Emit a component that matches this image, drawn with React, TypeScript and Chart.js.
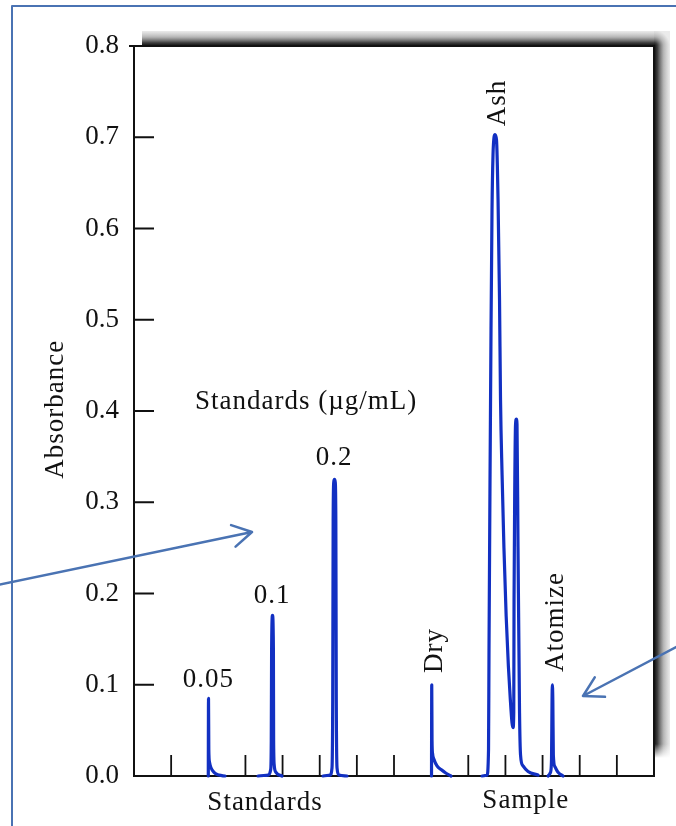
import React, { useEffect, useRef } from 'react';
import { Chart, registerables } from 'chart.js';

Chart.register(...registerables);

// ---------- data ----------
const yTickValues = [0, 0.1, 0.2, 0.3, 0.4, 0.5, 0.6, 0.7, 0.8];
const xTickValues = [1, 2, 3, 4, 5, 6, 7, 8, 9, 10, 11, 12, 13];

const std005X = [2.0, 2.006, 2.014, 2.033, 2.073, 2.154, 2.289, 2.45];
const std005Y = [0, 0.085, 0.029, 0.015, 0.009, 0.004, 0.001, 0];

const std01X = [3.339, 3.608, 3.68, 3.696, 3.705, 3.729, 3.753, 3.759, 3.775, 3.823, 3.985];
const std01Y = [0, 0.001, 0.007, 0.039, 0.138, 0.176, 0.14, 0.04, 0.012, 0.004, 0];

const std02X = [5.089, 5.277, 5.331, 5.35, 5.362, 5.378, 5.398, 5.418, 5.434, 5.446, 5.466, 5.52, 5.735];
const std02Y = [0, 0.001, 0.009, 0.083, 0.28, 0.322, 0.325, 0.322, 0.28, 0.083, 0.009, 0.001, 0];

const dryX = [8.01, 8.016, 8.024, 8.037, 8.078, 8.158, 8.266, 8.401, 8.535];
const dryY = [0, 0.1, 0.039, 0.025, 0.018, 0.011, 0.007, 0.003, 0];

const ashX = [9.37, 9.504, 9.545, 9.558, 9.585, 9.612, 9.639, 9.666, 9.693, 9.72, 9.76, 9.801, 9.841, 9.868,
  9.91, 9.96, 10.02, 10.08, 10.13, 10.178, 10.205, 10.224, 10.232, 10.253, 10.272, 10.294, 10.312, 10.339,
  10.38, 10.407, 10.474, 10.609, 10.878];
const ashY = [0, 0.001, 0.029, 0.138, 0.325, 0.489, 0.621, 0.681, 0.7, 0.703, 0.697, 0.632, 0.522, 0.412,
  0.33, 0.25, 0.175, 0.12, 0.085, 0.058, 0.053, 0.069, 0.193, 0.325, 0.385, 0.391, 0.385, 0.251,
  0.069, 0.023, 0.011, 0.005, 0.001];

const atomizeX = [11.147, 11.214, 11.241, 11.255, 11.263, 11.276, 11.29, 11.335, 11.416, 11.55];
const atomizeY = [0, 0.004, 0.018, 0.083, 0.1, 0.083, 0.023, 0.01, 0.004, 0];

const peakLabels = ['0.05', '0.1', '0.2'];
const stageLabels = ['Dry', 'Ash', 'Atomize'];
const groupLabels = ['Standards', 'Sample'];
const legendTitle = 'Standards (\u00b5g/mL)';
const yTitle = 'Absorbance';

// ---------- styles ----------
const SERIF = '"Liberation Serif", "Times New Roman", serif';
const TRACE = '#1230c2';
const INK = '#111111';
const FRAME = '#4a73b3';

const decor = {
  id: 'decor',
  beforeDraw(chart: any) {
    const { ctx, chartArea: ca } = chart;
    ctx.save();
    ctx.fillStyle = '#ffffff';
    ctx.fillRect(0, 0, chart.width, chart.height);
    const sTop = ca.top - 15;
    const sRight = ca.right + 16;
    const sLeft = ca.left + 8;
    const sBottom = ca.bottom - 18;
    const stops: [number, string][] = [
      [0, 'rgba(10,10,10,1)'],
      [0.22, 'rgba(30,30,30,0.85)'],
      [0.6, 'rgba(80,80,80,0.42)'],
      [1, 'rgba(120,120,120,0.15)'],
    ];
    let g = ctx.createLinearGradient(0, ca.top, 0, sTop);
    stops.forEach(([o, c]) => g.addColorStop(o, c));
    ctx.fillStyle = g;
    ctx.fillRect(sLeft, sTop, ca.right - sLeft, ca.top - sTop);
    g = ctx.createLinearGradient(ca.right, 0, sRight, 0);
    stops.forEach(([o, c]) => g.addColorStop(o, c));
    ctx.fillStyle = g;
    ctx.fillRect(ca.right, ca.top, sRight - ca.right, sBottom - ca.top);
    const rg = ctx.createRadialGradient(ca.right, ca.top, 0, ca.right, ca.top, 16);
    stops.forEach(([o, c]) => rg.addColorStop(o, c));
    ctx.fillStyle = rg;
    ctx.fillRect(ca.right, sTop, 16, ca.top - sTop);
    const fg = ctx.createLinearGradient(0, sBottom - 14, 0, sBottom);
    fg.addColorStop(0, 'rgba(255,255,255,0)');
    fg.addColorStop(1, 'rgba(255,255,255,1)');
    ctx.fillStyle = fg;
    ctx.fillRect(ca.right + 1, sBottom - 14, 17, 14);
    ctx.restore();
  },
  beforeDatasetsDraw(chart: any) {
    const { ctx, chartArea: ca, scales } = chart;
    const xs = scales.x;
    const ys = scales.y;
    ctx.save();
    ctx.strokeStyle = INK;
    ctx.lineWidth = 2;
    ctx.beginPath();
    ctx.moveTo(ca.left - 5, ca.top);
    ctx.lineTo(ca.right, ca.top);
    ctx.lineTo(ca.right, ca.bottom + 1);
    ctx.stroke();
    ctx.lineWidth = 1.8;
    ctx.beginPath();
    yTickValues.forEach((v) => {
      if (v <= ys.min || v >= ys.max) return;
      const y = ys.getPixelForValue(v);
      ctx.moveTo(ca.left, y);
      ctx.lineTo(ca.left + 20, y);
    });
    xTickValues.forEach((v) => {
      const x = xs.getPixelForValue(v);
      ctx.moveTo(x, ca.bottom);
      ctx.lineTo(x, ca.bottom - 21);
    });
    ctx.stroke();
    ctx.restore();
  },
  afterDraw(chart: any) {
    const { ctx, chartArea: ca, scales } = chart;
    const X = (v: number) => scales.x.getPixelForValue(v);
    const Y = (v: number) => scales.y.getPixelForValue(v);
    ctx.save();
    ctx.fillStyle = INK;
    ctx.font = `27px ${SERIF}`;
    (ctx as any).letterSpacing = '1px';
    ctx.textBaseline = 'alphabetic';

    ctx.textAlign = 'left';
    ctx.fillText(legendTitle, X(1.64), Y(0.402));

    const peakPos = [[2.0, 0.0976], [3.72, 0.19], [5.39, 0.341]];
    ctx.textAlign = 'center';
    peakLabels.forEach((t, i) => ctx.fillText(t, X(peakPos[i][0]), Y(peakPos[i][1])));

    const groupPos = [[3.53, 34], [10.55, 32]];
    groupLabels.forEach((t, i) => ctx.fillText(t, X(groupPos[i][0]), ca.bottom + groupPos[i][1]));

    const stagePos = [[8.29, 0.113], [9.99, 0.712], [11.55, 0.114]];
    stageLabels.forEach((t, i) => {
      ctx.save();
      ctx.translate(X(stagePos[i][0]), Y(stagePos[i][1]));
      ctx.rotate(-Math.PI / 2);
      ctx.textAlign = 'left';
      ctx.fillText(t, 0, 0);
      ctx.restore();
    });

    ctx.save();
    ctx.translate(63, Y(0.402));
    ctx.rotate(-Math.PI / 2);
    ctx.textAlign = 'center';
    ctx.fillText(yTitle, 0, 0);
    ctx.restore();

    ctx.strokeStyle = FRAME;
    ctx.lineWidth = 2.5;
    ctx.lineCap = 'round';
    ctx.lineJoin = 'round';
    const arrow = (x0: number, y0: number, x1: number, y1: number) => {
      const a = Math.atan2(y1 - y0, x1 - x0);
      const L = 22;
      const s = Math.PI / 6;
      ctx.beginPath();
      ctx.moveTo(x0, y0);
      ctx.lineTo(x1, y1);
      ctx.moveTo(x1 - L * Math.cos(a - s), y1 - L * Math.sin(a - s));
      ctx.lineTo(x1, y1);
      ctx.lineTo(x1 - L * Math.cos(a + s), y1 - L * Math.sin(a + s));
      ctx.stroke();
    };
    arrow(-2, 585, 252, 532);
    arrow(678, 646, 583, 696);

    ctx.lineWidth = 2;
    ctx.lineCap = 'butt';
    ctx.beginPath();
    ctx.moveTo(12, chart.height + 2);
    ctx.lineTo(12, 6);
    ctx.lineTo(chart.width + 2, 6);
    ctx.stroke();
    ctx.restore();
  },
};

const mk = (xs: number[], ys: number[]) => ({
  data: xs.map((x, i) => ({ x, y: ys[i] })),
  borderColor: TRACE,
  backgroundColor: TRACE,
  borderWidth: 3.2,
  pointRadius: 0,
  cubicInterpolationMode: 'monotone',
  fill: false,
  borderJoinStyle: 'round',
  borderCapStyle: 'round',
  clip: false,
});

export default function App() {
  const ref = useRef<HTMLCanvasElement>(null);
  useEffect(() => {
    document.body.style.margin = '0';
    const chart = new Chart(ref.current as HTMLCanvasElement, {
      type: 'line',
      data: {
        datasets: [
          mk(std005X, std005Y),
          mk(std01X, std01Y),
          mk(std02X, std02Y),
          mk(dryX, dryY),
          mk(ashX, ashY),
          mk(atomizeX, atomizeY),
        ] as any,
      },
      options: {
        responsive: false,
        animation: false,
        devicePixelRatio: 1,
        layout: { padding: { top: 46, right: 22, bottom: 50, left: 0 } },
        plugins: { legend: { display: false }, tooltip: { enabled: false } },
        events: [],
        scales: {
          x: {
            type: 'linear',
            min: 0,
            max: 14,
            ticks: { display: false },
            grid: { display: false, drawTicks: false },
            border: { display: true, color: INK, width: 2 },
            afterFit: (s: any) => { s.height = 0; },
          },
          y: {
            type: 'linear',
            min: 0,
            max: 0.8,
            afterBuildTicks: (s: any) => { s.ticks = yTickValues.map((v) => ({ value: v })); },
            ticks: {
              callback: (v: any) => Number(v).toFixed(1),
              font: { family: SERIF, size: 27 },
              color: INK,
              padding: 15,
            },
            grid: { display: false, drawTicks: false },
            border: { display: true, color: INK, width: 2 },
            afterFit: (s: any) => { s.width = 134; },
          },
        },
      } as any,
      plugins: [decor],
    });
    return () => chart.destroy();
  }, []);
  return (
    <div style={{ width: 676, height: 826 }}>
      <canvas ref={ref} width={676} height={826} style={{ display: 'block' }} />
    </div>
  );
}
